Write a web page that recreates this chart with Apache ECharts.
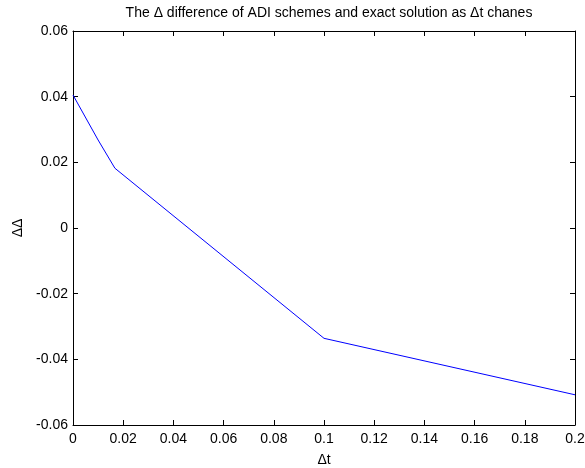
<!DOCTYPE html>
<html><head><meta charset="utf-8">
<script src="https://cdn.jsdelivr.net/npm/echarts@6/dist/echarts.min.js"></script>
<style>html,body{margin:0;padding:0;background:#fff}#c{width:585px;height:468px}</style>
</head><body><div id="c"></div>
<script>
var dtValues = [0, 0.01, 0.0167, 0.1, 0.2];
var diffValues = [0.0405, 0.0268, 0.0182, -0.0336, -0.0508];
var titleText = 'The \u0394 difference of ADI schemes and exact solution as \u0394t chanes';
var xName = '\u0394t';
var yName = '\u0394\u0394';

var font = 'Liberation Sans, Arial, sans-serif';
var chart = echarts.init(document.getElementById('c'));
var axisCommon = {
  axisLine: {show: true, onZero: false, lineStyle: {color: '#000', width: 1}},
  axisTick: {show: true, inside: true, length: 5, lineStyle: {color: '#000'}},
  splitLine: {show: false}
};
function fmt(v){ return String(parseFloat(v.toFixed(4))); }
chart.setOption({
  animation: false,
  backgroundColor: '#fff',
  title: {text: titleText, left: 324, top: 1, textAlign: 'center',
    textStyle: {fontFamily: font, fontSize: 14, fontWeight: 'normal', color: '#000'}},
  grid: {left: 73, right: 10, top: 31, bottom: 43, containLabel: false, outerBoundsMode: 'none'},
  xAxis: [
    Object.assign({type: 'value', min: 0, max: 0.2, interval: 0.02, position: 'bottom',
      name: xName, nameLocation: 'middle', nameGap: 28,
      nameTextStyle: {fontFamily: font, fontSize: 14, color: '#000'},
      axisLabel: {fontFamily: font, fontSize: 14, color: '#000', margin: 7, formatter: fmt}}, axisCommon),
    Object.assign({type: 'value', min: 0, max: 0.2, interval: 0.02, position: 'top',
      axisLabel: {show: false}}, axisCommon)
  ],
  yAxis: [
    Object.assign({type: 'value', min: -0.06, max: 0.06, interval: 0.02, position: 'left',
      name: yName, nameLocation: 'middle', nameGap: 46, nameRotate: 90,
      nameTextStyle: {fontFamily: font, fontSize: 14, color: '#000'},
      axisLabel: {fontFamily: font, fontSize: 14, color: '#000', margin: 5, formatter: fmt}}, axisCommon),
    Object.assign({type: 'value', min: -0.06, max: 0.06, interval: 0.02, position: 'right',
      axisLabel: {show: false}}, axisCommon)
  ],
  series: [{
    type: 'line', xAxisIndex: 0, yAxisIndex: 0,
    data: dtValues.map(function(d, i){ return [d, diffValues[i]]; }),
    showSymbol: false, symbol: 'none',
    lineStyle: {color: '#0000ff', width: 1}
  }]
});
</script></body></html>
